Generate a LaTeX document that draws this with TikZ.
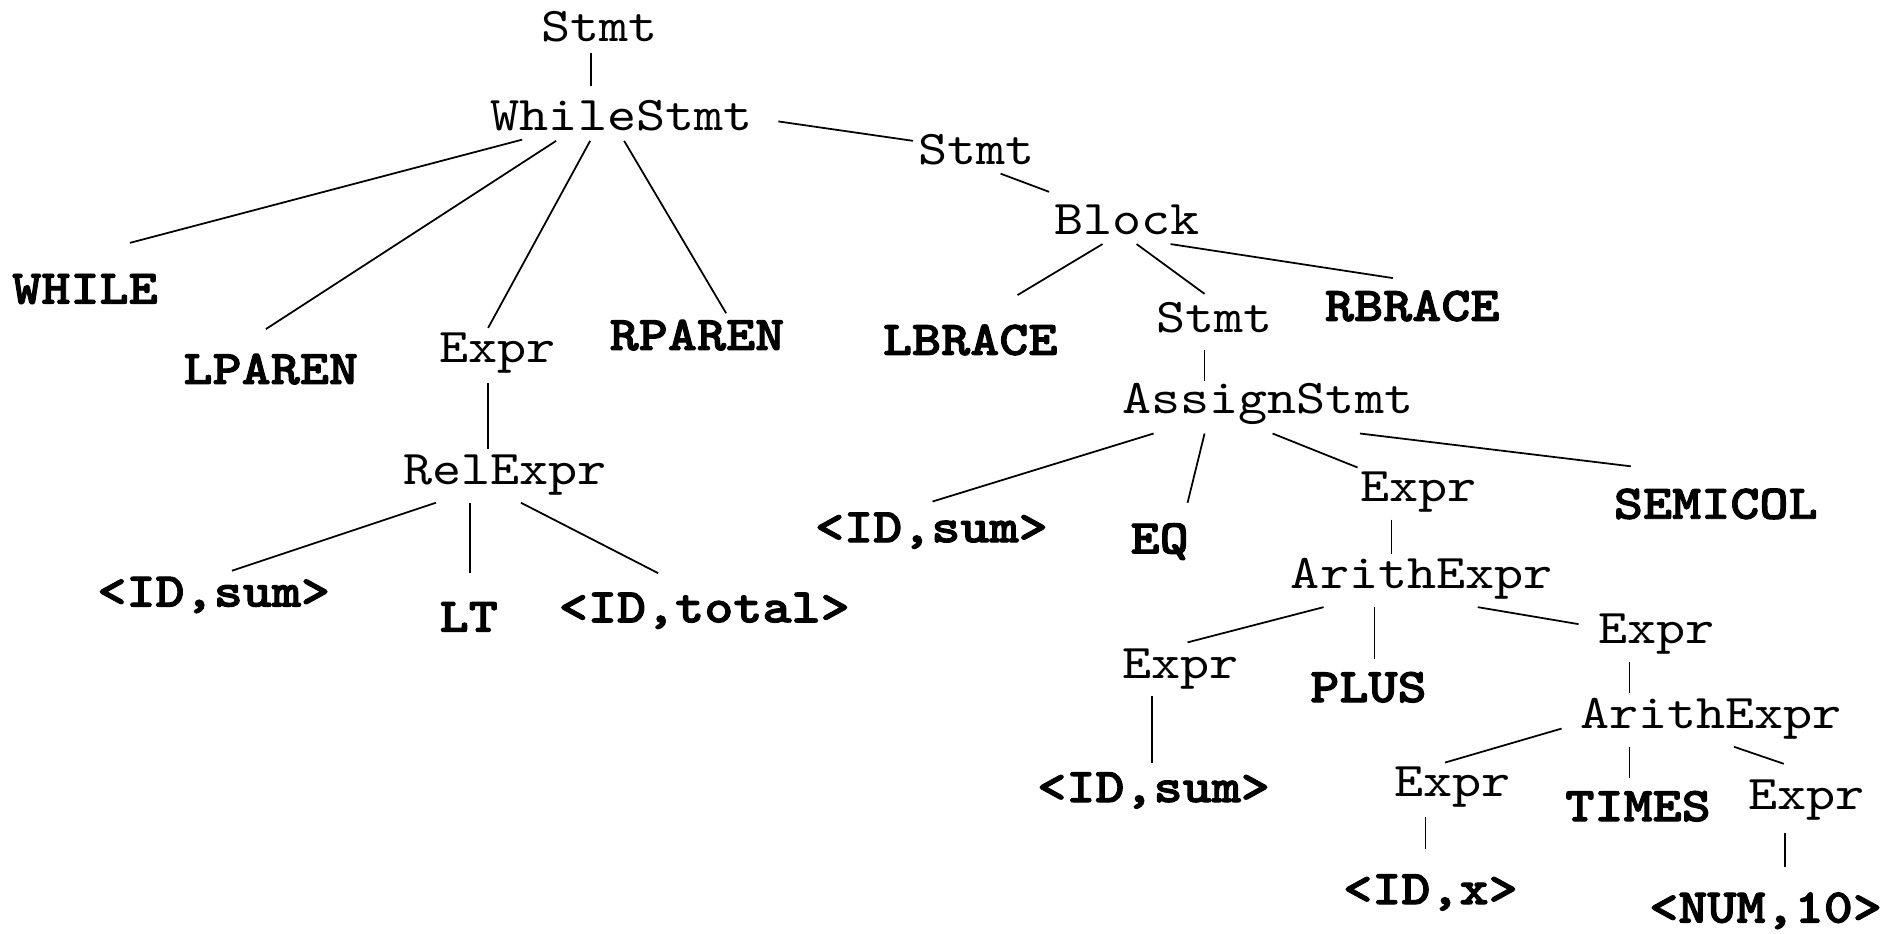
\documentclass[tikz,border=0pt]{standalone}
\usepackage{fontspec}
\newfontfamily\treefont{lmmono10-regular.otf}[FakeStretch=1.143, BoldFont=lmmonolt10-bold.otf, BoldFeatures={FakeBold=2}]
\usetikzlibrary{calc,positioning}
\tikzset{%
	nonterm/.style = {font=\treefont\fontsize{13.8}{15}\selectfont, inner sep=2pt}, % inner node
	term/.style    = {font=\treefont\bfseries\fontsize{13.8}{15}\selectfont, inner sep=2pt}, % token
	edge/.style    = {line width=0.5pt},
}

\begin{document}
\begin{tikzpicture}[x=0.012143cm, y=-0.012143cm]
	\useasboundingbox (0,0) rectangle (1568,769);
	% while part
	\node[nonterm] (s0) at (494,22) {Stmt};
	\node[nonterm] (ws) at (512,95) {WhileStmt};
	\node[term] (while) at (70,238) {WHILE};
	\node[term] (lp) at (223,304) {LPAREN};
	\node[nonterm] (e0) at (410,291) {Expr};
	\node[term] (rp) at (574,276) {RPAREN};
	\node[nonterm] (rel) at (416,391) {RelExpr};
	\node[term] (id1) at (176,490) {<ID,sum>};
	\node[term] (lt) at (386,508) {LT};
	\node[term] (id2) at (580,503) {<ID,total>};
	% body
	\node[nonterm] (s1) at (804,123) {Stmt};
	\node[nonterm] (blk) at (928,181) {Block};
	\node[term] (lb) at (799,280) {LBRACE};
	\node[nonterm] (s2) at (1000,262) {Stmt};
	\node[term] (rb) at (1163,252) {RBRACE};
	\node[nonterm] (as) at (1044,333) {AssignStmt};
	\node[term] (id3) at (767,437) {<ID,sum>};
	\node[term] (eq) at (955,446) {EQ};
	\node[nonterm] (e1) at (1168,405) {Expr};
	\node[term] (semi) at (1413,415) {SEMICOL};
	\node[nonterm] (ar1) at (1171,477) {ArithExpr};
	\node[nonterm] (e2) at (972,551) {Expr};
	\node[term] (plus) at (1127,566) {PLUS};
	\node[nonterm] (e3) at (1364,522) {Expr};
	\node[term] (id4) at (950,651) {<ID,sum>};
	\node[nonterm] (ar2) at (1409,592) {ArithExpr};
	\node[nonterm] (e4) at (1196,648) {Expr};
	\node[term] (times) at (1349,664) {TIMES};
	\node[nonterm] (e5) at (1488,659) {Expr};
	\node[term] (idx) at (1178,735) {<ID,x>};
	\node[term] (num) at (1454,750) {<NUM,10>};
	% edges
	\draw[edge] ($(s0)+(-7,22)$) -- ($(ws)+(-25,-24)$);
	\draw[edge] ($(ws)+(-82,20)$) -- ($(while)+(37,-38)$);
	\draw[edge] ($(ws)+(-54,21)$) -- ($(lp)+(-4,-33)$);
	\draw[edge] ($(ws)+(-26,21)$) -- ($(e0)+(-8,-21)$);
	\draw[edge] ($(ws)+(2,21)$) -- ($(rp)+(24,-18)$);
	\draw[edge] ($(ws)+(129,5)$) -- ($(s1)+(-52,-7)$);
	\draw[edge] ($(e0)+(-8,24)$) -- ($(rel)+(-14,-21)$);
	\draw[edge] ($(rel)+(-57,23)$) -- ($(id1)+(15,-20)$);
	\draw[edge] ($(rel)+(-29,23)$) -- ($(lt)+(1,-36)$);
	\draw[edge] ($(rel)+(13,23)$) -- ($(id2)+(-38,-31)$);
	\draw[edge] ($(s1)+(20,20)$) -- ($(blk)+(-64,-23)$);
	\draw[edge] ($(blk)+(-20,20)$) -- ($(lb)+(39,-37)$);
	\draw[edge] ($(blk)+(8,20)$) -- ($(s2)+(-8,-20)$);
	\draw[edge] ($(blk)+(36,20)$) -- ($(rb)+(-16,-23)$);
	\draw[edge] ($(s2)+(-8,26)$) -- ($(as)+(-52,-19)$);
	\draw[edge] ($(as)+(-94,24)$) -- ($(id3)+(1,-24)$);
	\draw[edge] ($(as)+(-52,24)$) -- ($(eq)+(23,-32)$);
	\draw[edge] ($(as)+(4,24)$) -- ($(e1)+(-50,-20)$);
	\draw[edge] ($(as)+(76,24)$) -- ($(semi)+(-70,-31)$);
	\draw[edge] ($(e1)+(-22,23)$) -- ($(ar1)+(-25,-21)$);
	\draw[edge] ($(ar1)+(-81,23)$) -- ($(e2)+(6,-22)$);
	\draw[edge] ($(ar1)+(-39,23)$) -- ($(plus)+(5,-23)$);
	\draw[edge] ($(ar1)+(46,23)$) -- ($(e3)+(-64,-8)$);
	\draw[edge] ($(e2)+(-23,22)$) -- ($(id4)+(-1,-23)$);
	\draw[edge] ($(e3)+(-22,23)$) -- ($(ar2)+(-67,-21)$);
	\draw[edge] ($(ar2)+(-123,8)$) -- ($(e4)+(-6,-20)$);
	\draw[edge] ($(ar2)+(-67,23)$) -- ($(times)+(-7,-23)$);
	\draw[edge] ($(ar2)+(19,23)$) -- ($(e5)+(-19,-30)$);
	\draw[edge] ($(e4)+(-22,25)$) -- ($(idx)+(-4,-36)$);
	\draw[edge] ($(e5)+(-18,27)$) -- ($(num)+(16,-36)$);
\end{tikzpicture}
\end{document}
